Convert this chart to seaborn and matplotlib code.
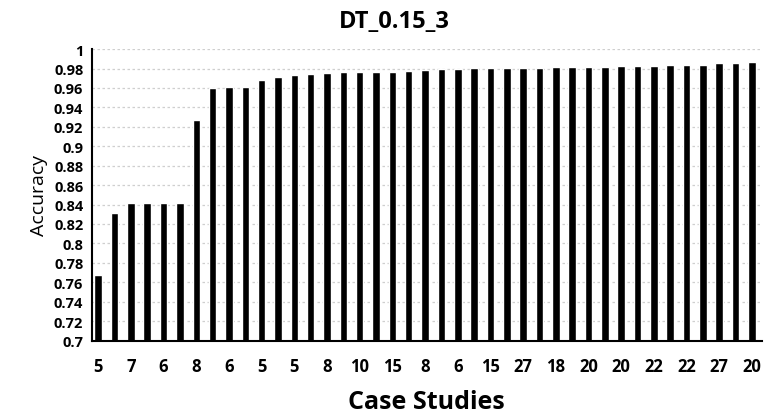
import matplotlib
matplotlib.use("Agg")
import matplotlib.pyplot as plt
import seaborn as sns
import numpy as np
import pandas as pd

# Data (41 bars, labels shown on every other bar)
accuracy = [0.767, 0.831, 0.842, 0.842, 0.842, 0.842, 0.927, 0.960, 0.961, 0.961,
            0.968, 0.971, 0.973, 0.974, 0.975, 0.976, 0.976, 0.976, 0.976, 0.977,
            0.978, 0.980, 0.980, 0.981, 0.981, 0.981, 0.981, 0.981, 0.982, 0.982,
            0.982, 0.982, 0.983, 0.983, 0.983, 0.984, 0.984, 0.984, 0.986, 0.986,
            0.987]
tick_labels = ["5", "7", "6", "8", "6", "5", "5", "8", "10", "15", "8", "6",
               "15", "27", "18", "20", "20", "22", "22", "27", "20"]
y_ticks = [0.7, 0.72, 0.74, 0.76, 0.78, 0.8, 0.82, 0.84, 0.86, 0.88, 0.9,
           0.92, 0.94, 0.96, 0.98, 1.0]

sns.set_theme(style="white")
plt.rcParams['font.family'] = ['Open Sans', 'DejaVu Sans']
plt.rcParams['text.color'] = 'black'
plt.rcParams['axes.labelcolor'] = 'black'
plt.rcParams['xtick.color'] = 'black'
plt.rcParams['ytick.color'] = 'black'

df = pd.DataFrame({"case": list(range(len(accuracy))), "acc": accuracy})

fig = plt.figure(figsize=(7.64, 4.14), dpi=100)
ax = fig.add_axes([0.12, 0.175, 0.877, 0.704])

for t in y_ticks[1:]:
    ax.axhline(t, color="#cfcfcf", linestyle=(0, (2, 2)), linewidth=0.9, zorder=0)

sns.barplot(data=df, x="case", y="acc", color="black", width=0.46,
            saturation=1, ax=ax, zorder=2)

ax.set_ylim(0.7, 1.0)
ax.set_xlim(-0.4, len(accuracy) - 1 + 0.6)
ax.set_yticks(y_ticks)
ax.set_yticklabels([f"{v:g}" for v in y_ticks], fontsize=10.5, fontweight="bold")
ax.set_xticks(list(range(0, len(accuracy), 2)))
ax.set_xticklabels(tick_labels, fontsize=12, fontweight="bold")
ax.tick_params(axis="x", length=0, pad=12)
ax.tick_params(axis="y", length=0, pad=6)

for s in ["top", "right"]:
    ax.spines[s].set_visible(False)
for s in ["left", "bottom"]:
    ax.spines[s].set_color("black")
    ax.spines[s].set_linewidth(1.5)

ax.set_title("DT_0.15_3", fontsize=17, fontweight="bold", pad=16, x=0.451)
ax.set_xlabel("Case Studies", fontsize=18, fontweight="bold", labelpad=10)
ax.set_ylabel("Accuracy", fontsize=14, labelpad=4)

fig.savefig("out.png", dpi=100)
